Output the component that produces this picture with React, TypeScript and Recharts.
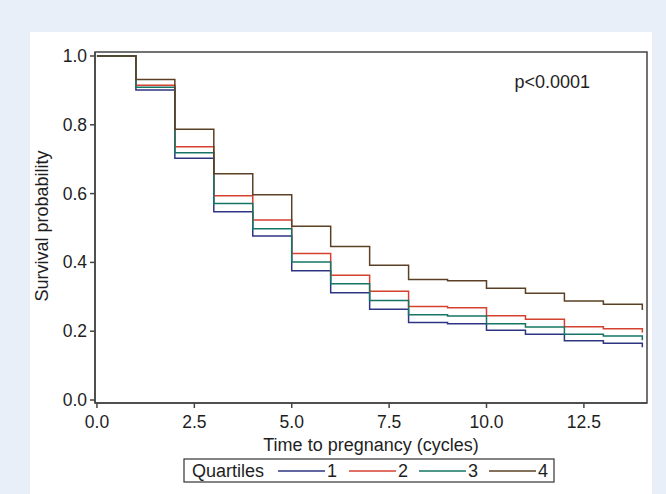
import React from "react";
import {
  Customized,
  Line,
  LineChart,
  ReferenceArea,
  XAxis,
  YAxis,
} from "recharts";

// Kaplan-Meier estimates, one value per cycle (0..14)
const cycles = [0, 1, 2, 3, 4, 5, 6, 7, 8, 9, 10, 11, 12, 13, 14];
const q1 = [1.0, 0.901, 0.703, 0.547, 0.477, 0.376, 0.312, 0.264, 0.225, 0.222, 0.203, 0.191, 0.172, 0.165, 0.153];
const q2 = [1.0, 0.915, 0.736, 0.594, 0.523, 0.426, 0.363, 0.316, 0.272, 0.268, 0.245, 0.235, 0.213, 0.207, 0.196];
const q3 = [1.0, 0.909, 0.719, 0.571, 0.498, 0.401, 0.338, 0.289, 0.248, 0.244, 0.222, 0.212, 0.191, 0.186, 0.174];
const q4 = [1.0, 0.932, 0.787, 0.658, 0.597, 0.505, 0.446, 0.392, 0.35, 0.347, 0.325, 0.31, 0.288, 0.278, 0.262];

const xTicks = [0, 2.5, 5, 7.5, 10, 12.5];
const yTicks = [0, 0.2, 0.4, 0.6, 0.8, 1.0];
const quartileLabels = ["1", "2", "3", "4"];
const colors = ["#2e3582", "#d5402f", "#167565", "#5c4026"];

const X_DOMAIN: [number, number] = [-0.05, 14.12];
const Y_DOMAIN: [number, number] = [-0.0087, 1.0116];
const FONT = "'Liberation Sans', Arial, Helvetica, sans-serif";
const AXIS = "#444";
const INK = "#1e1e1e";

const rows = cycles.map((c, i) => ({
  cycle: c,
  q1: q1[i],
  q2: q2[i],
  q3: q3[i],
  q4: q4[i],
}));

const series = ["q1", "q2", "q3", "q4"];

function XTick(props: any) {
  const { x, y, payload } = props;
  return (
    <text x={x} y={y + 12} fontSize={17.5} fontFamily={FONT} fill={INK} textAnchor="middle" dominantBaseline="central">
      {Number(payload.value).toFixed(1)}
    </text>
  );
}

function YTick(props: any) {
  const { x, y, payload } = props;
  return (
    <text x={x} y={y} fontSize={17.5} fontFamily={FONT} fill={INK} textAnchor="end" dominantBaseline="central">
      {Number(payload.value).toFixed(1)}
    </text>
  );
}

function Extras() {
  // legend box: "Quartiles" then a short line + label per group
  const lineStart = [278, 349, 419, 489];
  return (
    <g fontFamily={FONT} fill={INK}>
      <text x={590} y={88} fontSize={18} textAnchor="end">
        p&lt;0.0001
      </text>
      <text
        x={42}
        y={226}
        fontSize={18}
        textAnchor="middle"
        dominantBaseline="central"
        transform="rotate(-90 42 226)"
      >
        Survival probability
      </text>
      <text x={371} y={451} fontSize={18} textAnchor="middle">
        Time to pregnancy (cycles)
      </text>
      <rect
        x={184}
        y={459}
        width={370}
        height={23}
        fill="#fff"
        stroke="#333"
        strokeWidth={1.2}
      />
      <text x={192} y={477} fontSize={18}>
        Quartiles
      </text>
      {quartileLabels.map((lab, i) => (
        <g key={lab}>
          <line
            x1={lineStart[i]}
            x2={lineStart[i] + 47}
            y1={471}
            y2={471}
            stroke={colors[i]}
            strokeWidth={1.3}
          />
          <text x={lineStart[i] + 49} y={477} fontSize={18}>
            {lab}
          </text>
        </g>
      ))}
    </g>
  );
}

export default function App() {
  return (
    <div
      style={{
        position: "fixed",
        left: 0,
        top: 0,
        width: 666,
        height: 494,
        background: "#e8eff8",
      }}
    >
      <div
        style={{
          position: "absolute",
          left: 30,
          top: 32,
          width: 622,
          height: 462,
          background: "#fff",
        }}
      />
      <div style={{ position: "absolute", left: 0, top: 0 }}>
        <LineChart
          width={666}
          height={494}
          data={rows}
          margin={{ top: 52, right: 19, bottom: 61, left: 0 }}
        >
          <XAxis
            dataKey="cycle"
            type="number"
            domain={X_DOMAIN}
            allowDataOverflow
            ticks={xTicks}
            height={30}
            stroke={AXIS}
            strokeWidth={1.5}
            tickSize={5}
            tickMargin={2}
            tick={XTick}
          />
          <YAxis
            type="number"
            domain={Y_DOMAIN}
            allowDataOverflow
            ticks={yTicks}
            width={95}
            stroke={AXIS}
            strokeWidth={1.5}
            tickSize={5}
            tickMargin={3}
            tick={YTick}
          />
          {series.map((key, i) => (
            <Line
              key={key}
              dataKey={key}
              type="stepAfter"
              stroke={colors[i]}
              strokeWidth={1.5}
              dot={false}
              activeDot={false}
              isAnimationActive={false}
            />
          ))}
          <ReferenceArea
            x1={X_DOMAIN[0]}
            x2={X_DOMAIN[1]}
            y1={Y_DOMAIN[0]}
            y2={Y_DOMAIN[1]}
            fill="none"
            stroke={AXIS}
            strokeWidth={1.5}
          />
          <Customized component={Extras} />
        </LineChart>
      </div>
    </div>
  );
}
